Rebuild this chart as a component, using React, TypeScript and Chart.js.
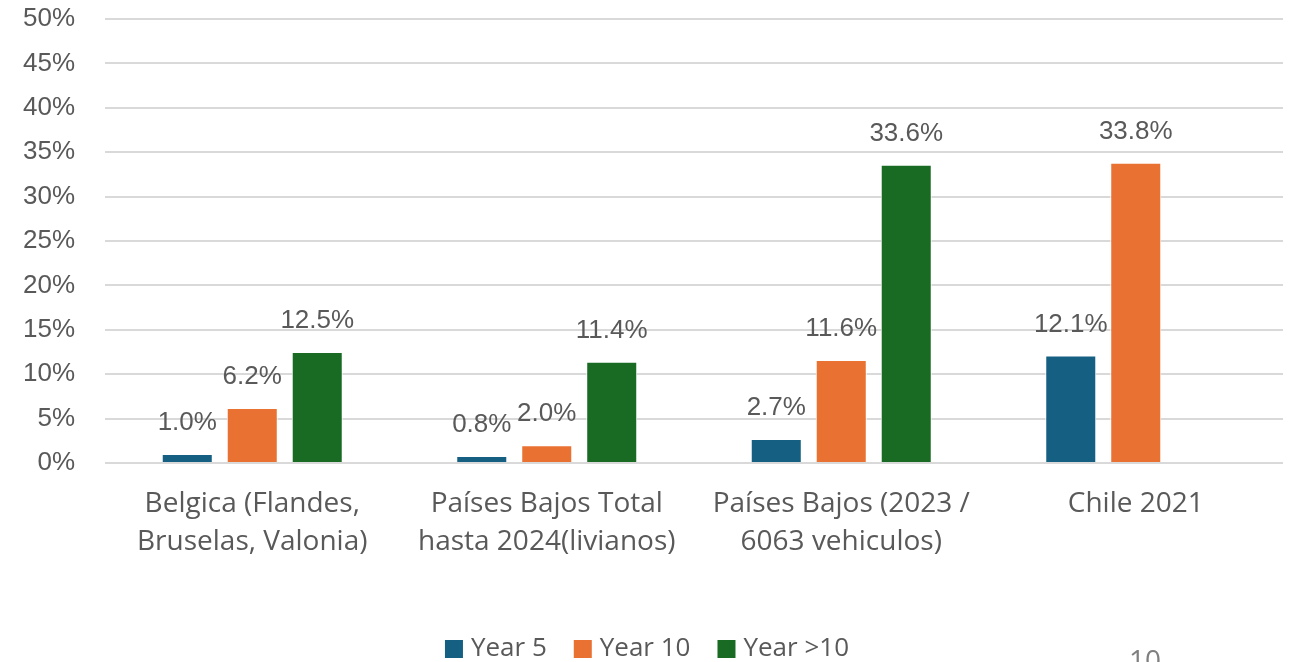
import React, { useEffect, useRef } from "react";
import { Chart, registerables } from "chart.js";

Chart.register(...registerables);

const categories: string[][] = [
  ["Belgica (Flandes,", "Bruselas, Valonia)"],
  ["Países Bajos Total", "hasta 2024(livianos)"],
  ["Países Bajos (2023 /", "6063 vehiculos)"],
  ["Chile 2021"],
];
const year5: (number | null)[] = [1.0, 0.8, 2.7, 12.1];
const year10: (number | null)[] = [6.2, 2.0, 11.6, 33.8];
const yearOver10: (number | null)[] = [12.5, 11.4, 33.6, null];
const seriesNames = ["Year 5", "Year 10", "Year >10"];
const seriesColors = ["#156082", "#E97132", "#196B24"];
const pageNumber = "10";

const TEXT = "#595959";
const SANS = "'Liberation Sans', Arial, sans-serif";
const CAT_FONT = "'Open Sans', sans-serif";

const labelsPlugin = {
  id: "extras",
  afterDatasetsDraw(chart: any) {
    const ctx = chart.ctx;
    ctx.save();
    ctx.font = `26px ${SANS}`;
    ctx.fillStyle = TEXT;
    ctx.textAlign = "center";
    ctx.textBaseline = "middle";
    chart.data.datasets.forEach((ds: any, i: number) => {
      const meta = chart.getDatasetMeta(i);
      meta.data.forEach((bar: any, j: number) => {
        const v = ds.data[j];
        if (v === null || v === undefined) return;
        ctx.fillText(v.toFixed(1) + "%", bar.x, bar.y - 31);
      });
    });
    ctx.restore();
  },
  afterDraw(chart: any) {
    const ctx = chart.ctx;
    ctx.save();
    ctx.font = `26px ${CAT_FONT}`;
    ctx.textBaseline = "middle";
    const box = 18;
    const gapBoxText = 8;
    const gapItems = 27;
    const widths = seriesNames.map((n) => ctx.measureText(n).width);
    let total = 0;
    widths.forEach((w, i) => {
      total += box + gapBoxText + w + (i < widths.length - 1 ? gapItems : 0);
    });
    let x = chart.width / 2 - total / 2 - 2;
    const y = 649;
    seriesNames.forEach((n, i) => {
      ctx.fillStyle = seriesColors[i];
      ctx.fillRect(x, y - box / 2, box, box);
      x += box + gapBoxText;
      ctx.fillStyle = TEXT;
      ctx.textAlign = "left";
      ctx.fillText(n, x, y);
      x += widths[i] + gapItems;
    });
    ctx.font = `28px ${CAT_FONT}`;
    ctx.fillStyle = "#7f7f7f";
    ctx.textAlign = "center";
    ctx.textBaseline = "middle";
    ctx.fillText(pageNumber, 1145, 662);
    ctx.restore();
  },
};

export default function App() {
  const ref = useRef<HTMLCanvasElement | null>(null);
  useEffect(() => {
    if (!ref.current) return;
    const chart = new Chart(ref.current, {
      type: "bar",
      data: {
        labels: categories,
        datasets: [year5, year10, yearOver10].map((d, i) => ({
          label: seriesNames[i],
          data: d,
          backgroundColor: seriesColors[i],
          borderColor: "#ffffff",
          borderWidth: 1,
          categoryPercentage: 0.662,
          barPercentage: 0.785,
        })),
      },
      options: {
        animation: false,
        responsive: false,
        maintainAspectRatio: false,
        layout: { padding: { top: 19, right: 15, left: 0, bottom: 0 } },
        plugins: {
          legend: { display: false },
          tooltip: { enabled: false },
        },
        scales: {
          x: {
            grid: { display: false, drawTicks: false },
            border: { display: false },
            ticks: {
              color: TEXT,
              padding: 22,
              maxRotation: 0,
              autoSkip: false,
              font: { family: CAT_FONT, size: 28, lineHeight: 1.36 },
            },
            afterFit(scale: any) {
              scale.height = 199;
              scale.paddingLeft = 0;
              scale.paddingRight = 0;
            },
          },
          y: {
            min: 0,
            max: 50,
            grid: { color: "#d9d9d9", lineWidth: 2, drawTicks: false },
            border: { display: false },
            ticks: {
              stepSize: 5,
              color: TEXT,
              padding: 30,
              font: { family: SANS, size: 26 },
              callback: (v: any) => `${v}%`,
            },
            afterFit(scale: any) {
              scale.width = 105;
              scale.paddingTop = 0;
              scale.paddingBottom = 0;
            },
          },
        },
      },
      plugins: [labelsPlugin],
    } as any);
    return () => chart.destroy();
  }, []);
  return (
    <div style={{ position: "fixed", left: 0, top: 0, width: 1298, height: 662, background: "#fff" }}>
      <canvas ref={ref} width={1298} height={662} style={{ display: "block" }} />
    </div>
  );
}
